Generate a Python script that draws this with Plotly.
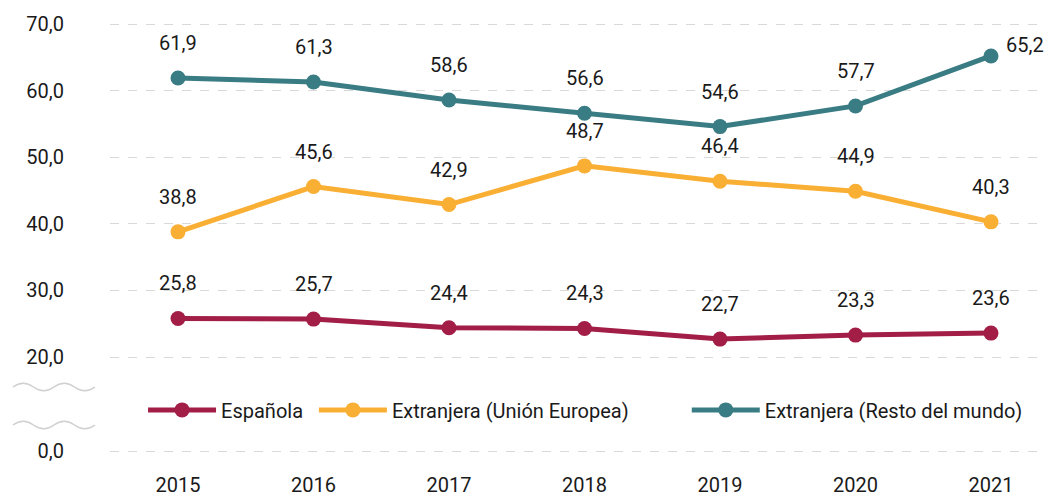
import plotly.graph_objects as go

# datos
years = [2015, 2016, 2017, 2018, 2019, 2020, 2021]
espanola = [25.8, 25.7, 24.4, 24.3, 22.7, 23.3, 23.6]
ext_ue = [38.8, 45.6, 42.9, 48.7, 46.4, 44.9, 40.3]
ext_resto = [61.9, 61.3, 58.6, 56.6, 54.6, 57.7, 65.2]

series_names = ["Española", "Extranjera (Unión Europea)", "Extranjera (Resto del mundo)"]
colors = ["#A21E47", "#F9AF34", "#3A7C83"]

# eje y cortado: el 0,0 se dibuja en una posicion falsa bajo el 20,0
ZERO_POS = 5.9
ytick_vals = [ZERO_POS, 20, 30, 40, 50, 60, 70]
ytick_text = ["0,0", "20,0", "30,0", "40,0", "50,0", "60,0", "70,0"]

FONT = "Roboto, Liberation Sans, sans-serif"
FS = 20
TXT = "#1a1a1a"

# la pagina tiene 8px de margen en el body, la figura se reduce para caber
W, H = 1046, 490
L, R, T, B = 102, 0, 14, 45
pw, ph = W - L - R, H - T - B

legend_ids = ["legend", "legend2", "legend3"]
legend_x = [0.035, 0.216, 0.611]

fig = go.Figure()
for name, vals, col, lg in zip(series_names, [espanola, ext_ue, ext_resto], colors, legend_ids):
    fig.add_trace(go.Scatter(
        x=years, y=vals, name=name, mode="lines+markers",
        line=dict(color=col, width=5),
        marker=dict(color=col, size=15),
        legend=lg,
    ))
    for i, (xv, yv) in enumerate(zip(years, vals)):
        last_top = (vals is ext_resto and i == len(vals) - 1)
        fig.add_annotation(
            x=xv, y=yv, text=f"{yv:.1f}".replace(".", ","),
            showarrow=False,
            xanchor="left" if last_top else "center",
            yanchor="bottom",
            xshift=13 if last_top else 0,
            yshift=-3 if last_top else 21,
            font=dict(family=FONT, size=FS, color=TXT),
        )


# marcas onduladas del corte del eje (en pixeles -> papel)
def px(x):
    return (x - L) / pw


def py(y):
    return (H - B - y) / ph


def wave(y0, x0=5, x1=87, amp=4):
    n = 4
    step = (x1 - x0) / n
    d = f"M{px(x0)},{py(y0)}"
    for k in range(n):
        xa = x0 + k * step
        s = -1 if k % 2 == 0 else 1
        d += (f" C{px(xa + step * 0.35)},{py(y0 + s * amp * 1.3)}"
              f" {px(xa + step * 0.65)},{py(y0 + s * amp * 1.3)}"
              f" {px(xa + step)},{py(y0)}")
    return d


shapes = []
for yw in (379, 417):
    shapes.append(dict(type="path", xref="paper", yref="paper", path=wave(yw),
                       line=dict(color="#d0d0d0", width=1.5)))

legends = {}
for lg, lx in zip(legend_ids, legend_x):
    legends[lg] = dict(orientation="h", x=lx, y=0.10, xanchor="left", yanchor="middle",
                       font=dict(family=FONT, size=FS, color=TXT),
                       bgcolor="rgba(0,0,0,0)", itemwidth=68)

fig.update_layout(
    width=W, height=H,
    margin=dict(l=L, r=R, t=T, b=B, autoexpand=False),
    paper_bgcolor="white", plot_bgcolor="white",
    font=dict(family=FONT, size=FS, color=TXT),
    showlegend=True,
    shapes=shapes,
    xaxis=dict(
        range=[2014.498, 2021.465],
        tickvals=years, ticktext=[str(y) for y in years],
        showgrid=False, zeroline=False, showline=False,
        ticks="", ticklabelstandoff=18, automargin=False,
        tickfont=dict(family=FONT, size=FS, color=TXT),
    ),
    yaxis=dict(
        range=[5.6, 70.3],
        tickvals=ytick_vals, ticktext=ytick_text,
        showgrid=True, gridcolor="#d9d9d9", griddash="dash", gridwidth=1,
        zeroline=False, showline=False, ticks="", automargin=False,
        ticklabelstandoff=45,
        tickfont=dict(family=FONT, size=FS, color=TXT),
    ),
    **legends,
)

fig.write_html("out.html")
